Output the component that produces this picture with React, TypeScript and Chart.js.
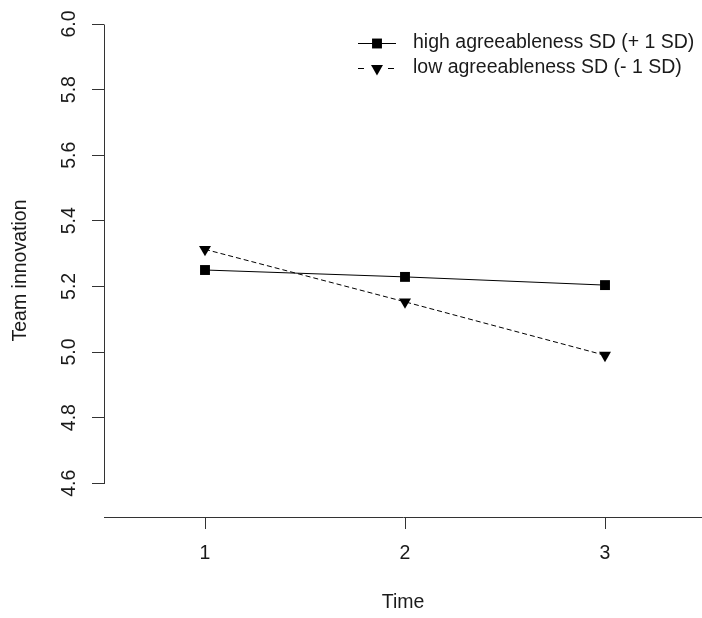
import { useEffect, useRef } from 'react';
import { Chart, registerables } from 'chart.js';

Chart.register(...registerables);

// ---- data ----
const timePoints = [1, 2, 3];
const highAgreeableness = [5.25, 5.229, 5.204];
const lowAgreeableness = [5.313, 5.153, 4.99];
const seriesLabels = ['high agreeableness SD (+ 1 SD)', 'low agreeableness SD (- 1 SD)'];
const xTickValues = [1, 2, 3];
const yTickValues = [4.6, 4.8, 5.0, 5.2, 5.4, 5.6, 5.8, 6.0];
const xTitle = 'Time';
const yTitle = 'Team innovation';

// ---- style ----
const FONT_FAMILY = '"Liberation Sans", Arial, sans-serif';
const FONT_SIZE = 19.5;
const TEXT_COLOR = '#1a1a1a';
const AXIS_COLOR = '#333333';

const rStylePlugin = {
  id: 'rStyle',
  afterDraw(chart: any) {
    const { ctx, chartArea } = chart;
    const yScale = chart.scales.y;
    ctx.save();
    // y axis line spanning first to last tick (R style)
    const ax = Math.round(chartArea.left - 0.5) + 0.5;
    const pTop = yScale.getPixelForValue(yTickValues[yTickValues.length - 1]);
    const pBot = yScale.getPixelForValue(yTickValues[0]);
    ctx.strokeStyle = AXIS_COLOR;
    ctx.lineWidth = 1;
    ctx.beginPath();
    ctx.moveTo(ax, Math.round(pTop - 0.5) + 0.5);
    ctx.lineTo(ax, Math.round(pBot - 0.5) + 0.5 + 0.5);
    ctx.stroke();

    // rotated y tick labels
    ctx.fillStyle = TEXT_COLOR;
    ctx.font = `${FONT_SIZE}px ${FONT_FAMILY}`;
    ctx.textAlign = 'center';
    ctx.textBaseline = 'middle';
    yTickValues.forEach((v) => {
      const py = yScale.getPixelForValue(v);
      ctx.save();
      ctx.translate(70, py);
      ctx.rotate(-Math.PI / 2);
      ctx.fillText(v.toFixed(1), 0, 0);
      ctx.restore();
    });

    // y title
    ctx.save();
    ctx.translate(20.5, 270.5);
    ctx.rotate(-Math.PI / 2);
    ctx.fillText(yTitle, 0, 0);
    ctx.restore();

    // legend
    const rows = [43, 68];
    const lx1 = 358;
    const lx2 = 396;
    const mx = 377;
    chart.data.datasets.forEach((ds: any, i: number) => {
      const ry = rows[i];
      ctx.strokeStyle = '#000';
      ctx.lineWidth = 1;
      ctx.beginPath();
      if (ds.borderDash && ds.borderDash.length) {
        ctx.moveTo(lx1, ry + 0.5);
        ctx.lineTo(lx1 + 6, ry + 0.5);
        ctx.moveTo(lx2 - 8, ry + 0.5);
        ctx.lineTo(lx2 - 2, ry + 0.5);
      } else {
        ctx.moveTo(lx1, ry + 0.5);
        ctx.lineTo(lx2, ry + 0.5);
      }
      ctx.stroke();
      ctx.fillStyle = '#000';
      const r = ds.pointRadius;
      if (ds.pointStyle === 'rect') {
        const s = Math.SQRT1_2 * r;
        ctx.fillRect(mx - s, ry + 0.5 - s, 2 * s, 2 * s);
      } else {
        ctx.beginPath();
        ctx.moveTo(mx, ry + 0.5 + r);
        ctx.lineTo(mx + Math.sin(Math.PI / 3) * r, ry + 0.5 - r / 2);
        ctx.lineTo(mx - Math.sin(Math.PI / 3) * r, ry + 0.5 - r / 2);
        ctx.closePath();
        ctx.fill();
      }
      ctx.fillStyle = TEXT_COLOR;
      ctx.textAlign = 'left';
      ctx.textBaseline = 'middle';
      ctx.fillText(ds.label, 413, ry);
    });
    ctx.restore();
  },
};

export default function App() {
  const canvasRef = useRef<HTMLCanvasElement | null>(null);

  useEffect(() => {
    if (!canvasRef.current) return;
    const font = { family: FONT_FAMILY, size: FONT_SIZE };
    const chart = new Chart(canvasRef.current, {
      type: 'line',
      data: {
        datasets: [
          {
            label: seriesLabels[0],
            data: timePoints.map((x, i) => ({ x, y: highAgreeableness[i] })),
            borderColor: '#000',
            backgroundColor: '#000',
            borderWidth: 1,
            pointStyle: 'rect',
            pointRadius: 7,
            pointHoverRadius: 7,
            pointBackgroundColor: '#000',
            pointBorderColor: '#000',
            pointBorderWidth: 0,
            fill: false,
            tension: 0,
          },
          {
            label: seriesLabels[1],
            data: timePoints.map((x, i) => ({ x, y: lowAgreeableness[i] })),
            borderColor: '#000',
            backgroundColor: '#000',
            borderWidth: 1,
            borderDash: [5, 3],
            pointStyle: 'triangle',
            pointRotation: 180,
            pointRadius: 6.9,
            pointHoverRadius: 6.9,
            pointBackgroundColor: '#000',
            pointBorderColor: '#000',
            pointBorderWidth: 0,
            fill: false,
            tension: 0,
          },
        ],
      },
      options: {
        animation: false,
        responsive: false,
        devicePixelRatio: 1,
        layout: { autoPadding: false, padding: { top: 4, left: 0, right: 0, bottom: 0 } },
        plugins: {
          legend: { display: false },
          tooltip: { enabled: false },
        },
        scales: {
          x: {
            type: 'linear',
            min: 0.495,
            max: 3.485,
            afterBuildTicks: (s: any) => {
              s.ticks = xTickValues.map((v) => ({ value: v }));
            },
            afterFit: (s: any) => {
              s.height = 101;
              s.paddingLeft = 0;
              s.paddingRight = 0;
            },
            grid: {
              display: true,
              drawOnChartArea: false,
              drawTicks: true,
              tickLength: 12,
              color: AXIS_COLOR,
              lineWidth: 1,
            },
            border: { display: true, color: AXIS_COLOR, width: 1 },
            ticks: {
              font,
              color: TEXT_COLOR,
              padding: 13,
              callback: (v: any) => String(v),
            },
            title: {
              display: true,
              text: xTitle,
              font,
              color: TEXT_COLOR,
              padding: { top: 0, bottom: 4 },
            },
          },
          y: {
            type: 'linear',
            min: 4.497,
            max: 6.061,
            afterBuildTicks: (s: any) => {
              s.ticks = yTickValues.map((v) => ({ value: v }));
            },
            afterFit: (s: any) => {
              s.width = 104;
              s.paddingTop = 0;
              s.paddingBottom = 0;
            },
            grid: {
              display: true,
              drawOnChartArea: false,
              drawTicks: true,
              tickLength: 12,
              color: AXIS_COLOR,
              lineWidth: 1,
            },
            border: { display: false },
            ticks: { display: false },
          },
        },
      },
      plugins: [rStylePlugin],
    } as any);
    return () => chart.destroy();
  }, []);

  return (
    <div style={{ position: 'fixed', left: 0, top: 0, width: 702, height: 618, background: '#fff' }}>
      <canvas ref={canvasRef} width={702} height={618} style={{ display: 'block' }} />
    </div>
  );
}
